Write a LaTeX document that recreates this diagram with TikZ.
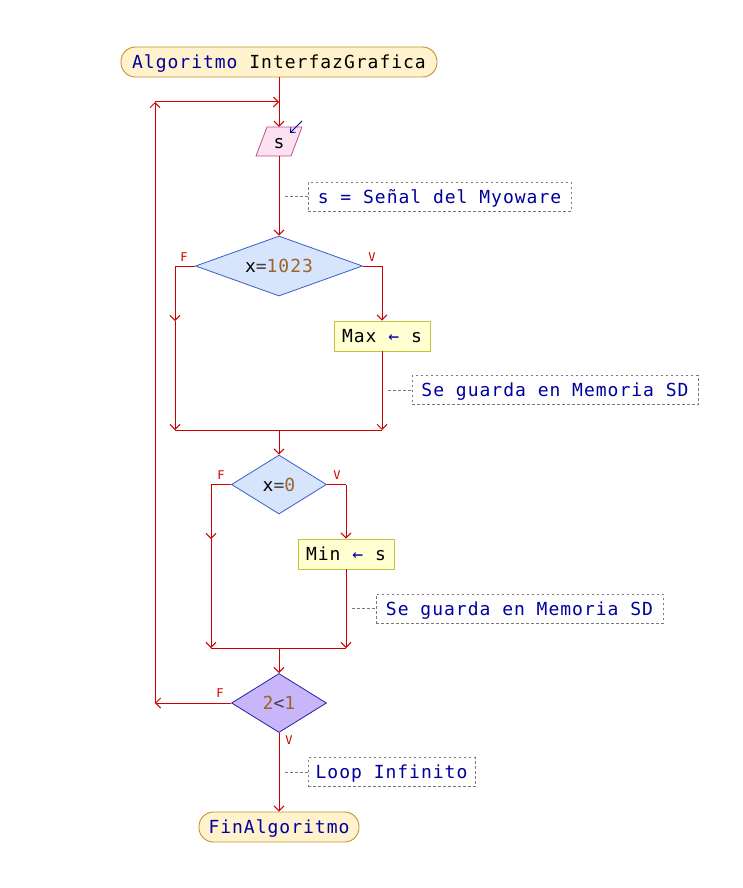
\documentclass[tikz,border=0pt]{standalone}
\usepackage{fontspec}
\newfontfamily\mono[LetterSpace=5.5]{DejaVu Sans Mono}
\newfontfamily\monolab{DejaVu Sans Mono}
\usetikzlibrary{shapes.geometric,arrows.meta}
\definecolor{flow}{HTML}{CC0000}
\definecolor{kwc}{HTML}{00009C}
\definecolor{numc}{HTML}{9C6428}
\definecolor{opc}{HTML}{404040}
\definecolor{termfill}{HTML}{FFF2CC}
\definecolor{termdraw}{HTML}{C8922E}
\definecolor{procfill}{HTML}{FFFFD2}
\definecolor{procdraw}{HTML}{C4C43A}
\definecolor{decfill}{HTML}{D6E4FC}
\definecolor{decdraw}{HTML}{3C5CC8}
\definecolor{loopfill}{HTML}{C9B6FA}
\definecolor{loopdraw}{HTML}{2222A8}
\definecolor{infill}{HTML}{FCE2F0}
\definecolor{indraw}{HTML}{C0508C}
\definecolor{cmtdraw}{HTML}{7A7A7A}
\newcommand\kwd[1]{\textcolor{kwc}{#1}}
\newcommand\numd[1]{\textcolor{numc}{#1}}
\newcommand\opd[1]{\textcolor{opc}{#1}}
\begin{document}
\begin{tikzpicture}[x=1pt,y=-1pt,
  base/.style={inner sep=0pt, font=\mono\fontsize{18}{20}\selectfont, text height=13pt, text depth=0pt, align=center},
  term/.style={base, draw=termdraw, fill=termfill, line width=0.9pt, rounded corners=14.5pt, minimum height=30pt},
  proc/.style={base, draw=procdraw, fill=procfill, line width=0.9pt, minimum height=30pt},
  dec/.style={base, shape=diamond, aspect=3, draw=decdraw, fill=decfill, line width=0.8pt},
  cmt/.style={base, draw=cmtdraw, dash pattern=on 2.5pt off 2.5pt, line width=0.8pt, minimum height=29pt, text=kwc},
  cmtline/.style={draw=cmtdraw, dash pattern=on 2.5pt off 2.5pt, line width=0.8pt},
  flowline/.style={draw=flow, line width=1pt},
  arr/.style={-{Straight Barb[length=5pt,width=10pt]}},
  lab/.style={inner sep=0pt, font=\monolab\fontsize{12}{14}\selectfont, text=flow}
]
\useasboundingbox (0,0) rectangle (742,888);

% nodes
\node[term, minimum width=316pt] (start) at (279,62) {\kwd{Algoritmo} InterfazGrafica};
\draw[draw=indraw, fill=infill, line width=0.8pt] (256,156) -- (267,127) -- (302,127) -- (291,156) -- cycle;
\node[base, minimum height=29pt, minimum width=20pt] (s) at (279,141.5) {s};
\coordinate (inA) at (302,121);
\coordinate (inB) at (290,133);
\draw[draw=kwc, line width=0.8pt, -{Straight Barb[length=4pt,width=7pt]}] (inA) -- (inB);

\node[cmt, minimum width=263pt] (c1) at (439.5,196.5) {s = Señal del Myoware};
\node[dec, minimum width=167pt, minimum height=60pt] (d1) at (279,266) {x\opd{=}\numd{1023}};
\node[proc, minimum width=96pt] (max) at (382,336) {Max \kwd{←} s};
\node[cmt, minimum width=286pt] (c2) at (555,390) {Se guarda en Memoria SD};
\node[dec, minimum width=95pt, minimum height=59pt] (d2) at (279,484.5) {x\opd{=}\numd{0}};
\node[proc, minimum width=96pt] (min) at (346,554) {Min \kwd{←} s};
\node[cmt, minimum width=287pt] (c3) at (519.5,608.5) {Se guarda en Memoria SD};
\node[dec, minimum width=95pt, minimum height=59pt, draw=loopdraw, fill=loopfill] (d3) at (279,703) {\numd{2}\opd{<}\numd{1}};
\node[cmt, minimum width=167pt] (c4) at (391.5,772) {Loop Infinito};
\node[term, minimum width=160pt] (end) at (279,827) {\kwd{FinAlgoritmo}};

% labels
\node[lab] (lf1) at (184,257) {F};
\node[lab] (lv1) at (372,257) {V};
\node[lab] (lf2) at (221,475) {F};
\node[lab] (lv2) at (337,475) {V};
\node[lab] (lf3) at (220,693) {F};
\node[lab] (lv3) at (289,740) {V};

% coordinates
\coordinate (loopB) at (155,703);
\coordinate (loopT) at (155,102);
\coordinate (loopJ) at (279,102);
\coordinate (f1c) at (175,266);
\coordinate (f1m) at (175,321);
\coordinate (v1c) at (382,266);
\coordinate (m1L) at (175,430);
\coordinate (m1R) at (382,430);
\coordinate (m1) at (279,430);
\coordinate (f2c) at (211,484.5);
\coordinate (f2m) at (211,539);
\coordinate (v2c) at (346,484.5);
\coordinate (m2L) at (211,648);
\coordinate (m2R) at (346,648);
\coordinate (m2) at (279,648);
\coordinate (k1) at (285,196.5);
\coordinate (k2) at (388,390);
\coordinate (k3) at (352,608.5);
\coordinate (k4) at (285,772);

% flow
\draw[flowline,arr] (start.south) -- (s.north);
\draw[flowline,arr] (loopT) -- (loopJ);
\draw[flowline,arr] (s.south) -- (d1.north);
\draw[flowline] (d1.west) -- (f1c);
\draw[flowline,arr] (f1c) -- (f1m);
\draw[flowline,arr] (f1m) -- (m1L);
\draw[flowline] (d1.east) -- (v1c);
\draw[flowline,arr] (v1c) -- (max.north);
\draw[flowline,arr] (max.south) -- (m1R);
\draw[flowline] (m1L) -- (m1R);
\draw[flowline,arr] (m1) -- (d2.north);

\draw[flowline] (d2.west) -- (f2c);
\draw[flowline,arr] (f2c) -- (f2m);
\draw[flowline,arr] (f2m) -- (m2L);
\draw[flowline] (d2.east) -- (v2c);
\draw[flowline,arr] (v2c) -- (min.north);
\draw[flowline,arr] (min.south) -- (m2R);
\draw[flowline] (m2L) -- (m2R);
\draw[flowline,arr] (m2) -- (d3.north);

\draw[flowline,arr] (d3.west) -- (loopB);
\draw[flowline,arr] (loopB) -- (loopT);
\draw[flowline,arr] (d3.south) -- (end.north);

% comment connectors
\draw[cmtline] (k1) -- (c1.west);
\draw[cmtline] (k2) -- (c2.west);
\draw[cmtline] (k3) -- (c3.west);
\draw[cmtline] (k4) -- (c4.west);
\end{tikzpicture}
\end{document}
